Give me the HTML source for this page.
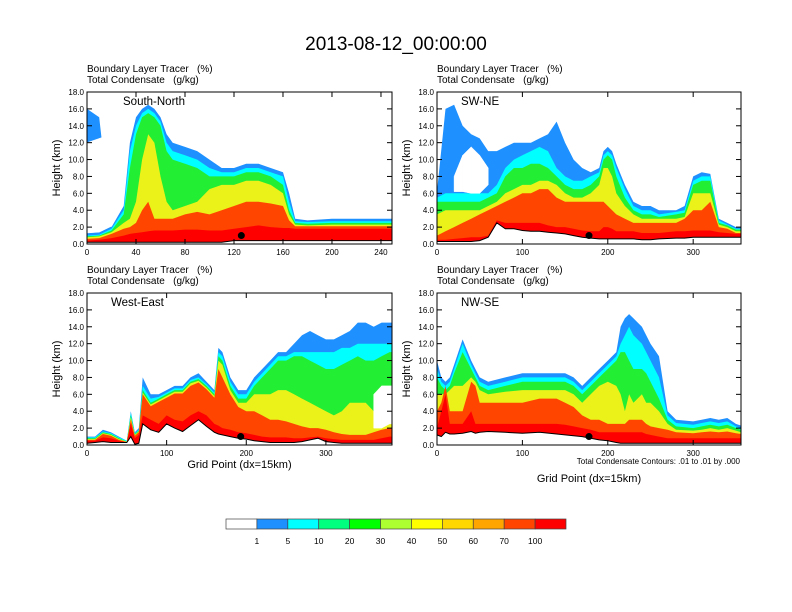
<!DOCTYPE html>
<html><head><meta charset="utf-8"><style>
html,body{margin:0;padding:0;background:#fff}
svg{display:block;font-family:"Liberation Sans",Arial,sans-serif}
text{white-space:pre}
</style></head><body>
<svg id="fig" width="792" height="612" viewBox="0 0 792 612" xmlns="http://www.w3.org/2000/svg">
<rect width="792" height="612" fill="#fff"/>
<text x="396" y="50" font-size="19" text-anchor="middle">2013-08-12_00:00:00</text>
<g id="panels"></g>
<g id="colorbar"></g>
<text x="740" y="464" font-size="8" text-anchor="end">Total Condensate Contours: .01 to .01 by .000</text>
</svg>
<script>
const NS="http://www.w3.org/2000/svg";
// ---------- data (heights in km, x in grid points) ----------
const tlX=[0,10,20,30,35,40,45,50,55,60,65,70,80,90,100,110,120,130,140,150,160,165,170,180,200,220,240,250];
const tlTerrain=[0.2,0.2,0.2,0.2,0.2,0.2,0.2,0.2,0.2,0.2,0.2,0.2,0.2,0.2,0.2,0.2,0.4,0.4,0.4,0.4,0.4,0.4,0.4,0.4,0.4,0.4,0.4,0.4];
const tlBlue=[16,15,2,4.5,12,15,16,16.5,16,15,13,12,11.5,11,10,9,9,9.5,9.5,9,8.5,6,3,2.8,3,3,3,3];
const tlCyan=[1,1.1,1.8,4,11,14,15.5,16,15.5,14.5,12,11,10.5,10,9,8.5,8.5,9,9,8.5,8,5,2.7,2.6,2.7,2.7,2.7,2.7];
const tlGreen=[0.9,1,1.6,3.5,9,13,15,15.5,15,14,11,10,9.5,9,8,8,8,8.5,8.5,8,7,4,2.5,2.4,2.5,2.5,2.5,2.5];
const tlYellow=[0.8,0.9,1.4,2.5,3,5,10,13,12,8,5,4,4.5,5,6.5,7,7,7.5,7.5,7,6,3.5,2.3,2.2,2.3,2.3,2.3,2.3];
const tlOrange=[0.6,0.7,1.2,1.8,2,2.5,4,5,3,3,3,3,3.5,3.8,3.5,4,4.5,5,5,4.8,4.5,2.8,2.1,2.1,2.1,2.1,2.1,2.1];
const tlRed=[0.4,0.5,0.7,1,1.2,1.3,1.4,1.5,1.6,1.6,1.6,1.6,1.7,1.7,1.6,1.6,1.8,2,2.2,2,1.9,1.9,1.8,1.8,1.8,1.8,1.8,1.8];
const tlClearLo=[1.3,1.4,2.1,0,0,0,0,0,0,0,0,0,0,0,0,0,0,0,0,0,0,0,0,0,0,0,0,0];
const tlClearHi=[12,12.5,13,0,0,0,0,0,0,0,0,0,0,0,0,0,0,0,0,0,0,0,0,0,0,0,0,0];

const trX=[0,10,20,30,40,50,60,70,80,90,100,110,120,130,140,150,160,170,180,190,195,200,205,210,220,230,240,250,260,280,290,300,310,320,330,340,350,356];
const trTerrain=[0.3,0.3,0.3,0.3,0.3,0.4,0.8,2.5,1.8,1.8,1.6,1.5,1.5,1.4,1.3,1.2,1,0.8,0.7,0.6,0.6,0.6,0.6,0.6,0.6,0.6,0.5,0.5,0.6,0.7,0.7,0.8,0.8,0.8,0.8,0.8,0.8,0.8];
const trBlue=[6.2,16,16.5,14,13,12.5,11,11,11.5,12,12,12,12.5,13,14.5,12,10,9,8.5,9,11,11.5,11,9.5,7,5,4.5,4.5,4,4,4.5,8,8.5,8.3,3,2.5,2,2];
const trCyan=[5.5,6,6,6,6,6,6,7,9,10,10.5,11,11.5,11,9,8,7.5,7.5,8,8.5,10.5,11,10.5,9,6.5,4.5,4,4,3.5,3.8,4,7.5,8,8,2.8,2.3,1.8,1.8];
const trGreen=[5,5,5,5,5,5,5.5,6,8,9,9,9.5,9.5,9,8,7,6.5,6.5,7,8,10,10.5,10,8,5.5,4,3.5,3.5,3.2,3.5,3.7,7,7.5,7.5,2.5,2.2,1.7,1.7];
const trYellow=[3.5,4,4,4,4,4,4.5,5,6,6.5,7,7,7.5,7.5,7,6,5.5,5.5,6,7,9,9,8,6,4.5,3.5,3,3,3,3,3.2,6,6,6,2.3,2,1.5,1.5];
const trOrange=[1,1.5,2,2.5,3,3.5,4,4.5,5,5.5,6,6,6.5,6.5,5.5,5,5,5,5,5,5,4.5,4,3.5,3,2.5,2.5,2.5,2.5,2.5,3,4,4,5,2,1.8,1.3,1.3];
const trRed=[0.5,0.5,0.6,0.7,0.8,0.8,1,2.8,2.5,2.5,2.5,2.5,2.5,2.2,2,2,1.8,1.6,1.5,1.5,2,2,1.8,1.5,1.5,1.5,1.3,1.3,1.3,1.5,1.5,1.6,1.6,1.6,1.4,1.3,1.2,1.2];
const trClearLo=[0,0,6.2,6.2,6,6,7,0,0,0,0,0,0,0,0,0,0,0,0,0,0,0,0,0,0,0,0,0,0,0,0,0,0,0,0,0,0,0];
const trClearHi=[0,0,8,10.5,11.5,10.5,9,0,0,0,0,0,0,0,0,0,0,0,0,0,0,0,0,0,0,0,0,0,0,0,0,0,0,0,0,0,0,0];

const blX=[0,10,20,30,40,50,55,60,65,70,80,90,100,110,120,130,140,150,160,165,170,180,190,200,210,220,230,240,250,260,270,280,290,300,310,320,330,340,350,360,370,380,383];
const blTerrain=[0.2,0.3,0.4,0.3,0.3,0.3,1,0.1,0.2,2.5,1.8,1.5,2.5,2,1.6,2.3,3,2.2,1.5,1.3,1.2,1,0.8,0.7,0.5,0.4,0.3,0.3,0.3,0.3,0.4,0.6,0.8,0.4,0.3,0.2,0.2,0.2,0.2,0.2,0.2,0.2,0.2];
const blBlue=[1,1,1.8,1.5,1,0.5,4,1.5,2,8,6,6,6.5,7,7,8,8.5,7.5,6.5,11.5,11,8,6.5,6.5,8,9,10,11,11,12,13,13.5,13,12.5,12.5,13,13.5,14.5,14.5,14,14.5,14.5,14.5];
const blCyan=[0.9,0.9,1.6,1.4,0.9,0.5,3.8,1.4,1.8,7,5.5,5.7,6.2,6.7,6.7,7.7,8,7.2,6.2,11,10.5,7.5,6,6,7.5,8.5,9.5,10.5,10.5,11,11,11,11,11,11,11.5,11.5,12,12,12,12,12,12];
const blGreen=[0.8,0.8,1.5,1.3,0.8,0.4,3.5,1.3,1.7,6.5,5,5.5,6,6.5,6.5,7.5,7.8,7,6,10.5,10,7,5.5,5.5,7,8,9,10,10,10.5,10.5,10,9.5,9,9,9.5,10,10.5,10,10,10.5,11,11];
const blYellow=[0.7,0.7,1.4,1.2,0.7,0.4,3.3,1.2,1.6,6.2,4.8,5.3,5.8,6.3,6.3,7.3,7.6,6.8,5.8,10,9.5,6.5,5,5,6,6,6,6.5,6.5,6,5.5,5,4.5,4,3.5,4,5,5,5,4,3.5,3,3];
const blOrange=[0.6,0.6,1.3,1.1,0.6,0.35,3,1.1,1.5,6,4.6,5.1,5.6,6.1,6.1,7,7.4,6.6,5.6,9,8,6,4.5,4,4,3.5,3,3,2.8,2.5,2.2,2,2,1.8,1.5,1.3,1.2,1.2,1.2,1.5,1.8,2,2];
const blRed=[0.5,0.5,0.9,0.8,0.5,0.3,2.5,0.8,1.2,3.5,3,2.5,3.5,3,2.8,3.5,4,3.5,2.5,2.3,2,1.8,1.5,1.4,1.2,1,0.9,0.9,0.9,0.8,0.8,0.9,1,0.8,0.7,0.6,0.6,0.6,0.6,0.6,0.8,1,1];
const blClearLo=[0,0,0,0,0,0,0,0,0,0,0,0,0,0,0,0,0,0,0,0,0,0,0,0,0,0,0,0,0,0,0,0,0,0,0,0,0,0,0,2,2,2.5,2.5];
const blClearHi=[0,0,0,0,0,0,0,0,0,0,0,0,0,0,0,0,0,0,0,0,0,0,0,0,0,0,0,0,0,0,0,0,0,0,0,0,0,0,0,6,7,7,7];

const brX=[0,5,10,15,20,30,40,45,50,60,80,100,120,140,150,160,170,180,190,200,210,215,220,225,230,240,245,250,260,270,280,300,310,320,330,340,350,356];
const brTerrain=[1.2,1,1.5,1.3,1.3,1.4,1.6,1.4,1.5,1.6,1.5,1.4,1.5,1.3,1.2,1.1,1,0.8,0.6,0.5,0.3,0.2,0.2,0.2,0.2,0.2,0.2,0.2,0.2,0.2,0.2,0.2,0.2,0.2,0.2,0.2,0.2,0.2];
const brBlue=[10,8,7.5,8,9.5,12.5,10,9,8,7.5,8,8.5,8.5,8.5,8.5,8,7,8,9,10,11,14,15,15.5,15,14,13,12,10.5,4,3,2.8,3,3.2,3,3.2,2.5,2.3];
const brCyan=[9,7.5,7,7.5,9,12,9.5,8.5,7.5,7,7.5,8,8,8,8,7.5,6.5,7.5,8.5,9.5,10.5,12,13,14,13,12,11,10,8,3.5,2.6,2.4,2.6,2.8,2.6,2.8,2.2,2];
const brGreen=[8,7,6.5,7,8.5,11,9,8,7,6.5,7,7.5,7.5,7.5,7.5,7,6,7,8,9,10,11,11,10,9,9,8.5,7.5,5.5,3,2.2,2,2.2,2.4,2.2,2.4,2,1.8];
const brYellow=[6,6,6,6.5,7,7,8,7.5,6.5,6,6.3,6.5,6.5,6.5,6.5,6,5,6,7,7.5,7,6,4,6,5,6,5,5,4,2.5,1.8,1.7,1.8,2,1.8,2,1.7,1.5];
const brOrange=[4,5,7,4,4,4,7.5,7,5,5,5,5,5.5,5.5,5,4.5,3.5,3,3,2.5,2.5,2.5,2.5,3,3,3,2.5,2.2,2,1.8,1.5,1.4,1.5,1.6,1.5,1.6,1.4,1.3];
const brRed=[2,4,6,2.5,2.5,2.5,4,2.5,2.5,2.5,2.5,2.5,2.5,2.5,2.4,2.2,2,1.8,1.5,1.5,1.5,1.5,1.5,1.5,1.5,1.5,1.3,1.2,1,0.8,0.8,0.8,0.8,0.8,0.8,0.8,0.8,0.8];
const brClearLo=new Array(38).fill(0);
const brClearHi=new Array(38).fill(0);

const yTicks=[0,2,4,6,8,10,12,14,16,18];
const tlXTicks=[0,40,80,120,160,200,240];
const otherXTicks=[0,100,200,300];
const barLabels=["1","5","10","20","30","40","50","60","70","100"];
const barColors=["#ffffff","#1e90ff","#00ffff","#00ff7f","#00ff00","#adff2f","#ffff00","#ffd700","#ffa500","#ff4500","#ff0000"];
const bandColors=["#1e90ff","#00ffff","#22ee33","#eaf21a","#ff4500","#ff0000"];

const panels=[
 {id:"south-north",x0:87,x1:392,y0:92,y1:244,xmax:249,label:"South-North",ticks:tlXTicks,X:tlX,T:tlTerrain,B:[tlBlue,tlCyan,tlGreen,tlYellow,tlOrange,tlRed],cl:tlClearLo,ch:tlClearHi,dot:126,xt:false},
 {id:"sw-ne",x0:437,x1:741,y0:92,y1:244,xmax:356,label:"SW-NE",ticks:otherXTicks,X:trX,T:trTerrain,B:[trBlue,trCyan,trGreen,trYellow,trOrange,trRed],cl:trClearLo,ch:trClearHi,dot:178,xt:false},
 {id:"west-east",x0:87,x1:392,y0:293,y1:445,xmax:383,label:"West-East",ticks:otherXTicks,X:blX,T:blTerrain,B:[blBlue,blCyan,blGreen,blYellow,blOrange,blRed],cl:blClearLo,ch:blClearHi,dot:193,xt:468},
 {id:"nw-se",x0:437,x1:741,y0:293,y1:445,xmax:356,label:"NW-SE",ticks:otherXTicks,X:brX,T:brTerrain,B:[brBlue,brCyan,brGreen,brYellow,brOrange,brRed],cl:brClearLo,ch:brClearHi,dot:178,xt:482}
];
function mk(tag,attrs,parent){const e=document.createElementNS(NS,tag);for(const k in attrs)e.setAttribute(k,attrs[k]);parent.appendChild(e);return e;}
const root=document.getElementById('panels');
panels.forEach(p=>{
 const g=mk('g',{},root);
 
 
 const sx=v=>p.x0+(p.x1-p.x0)*v/p.xmax;
 const sy=v=>p.y1-(p.y1-p.y0)*v/18;
 const clip=mk('clipPath',{id:'c-'+p.id},g);mk('rect',{x:p.x0,y:p.y0,width:p.x1-p.x0,height:p.y1-p.y0},clip);
 const plot=mk('g',{'clip-path':'url(#c-'+p.id+')'},g);
 p.B.forEach((arr,i)=>{
  let d='';
  p.X.forEach((x,j)=>{d+=(j?'L':'M')+sx(x).toFixed(1)+','+sy(Math.max(arr[j],p.T[j])).toFixed(1);});
  for(let j=p.X.length-1;j>=0;j--)d+='L'+sx(p.X[j]).toFixed(1)+','+sy(p.T[j]).toFixed(1);
  const path=mk('path',{d:d+'Z',fill:bandColors[i]},plot);
  
  
 });
 // clear-air gaps: only between consecutive points that both have a gap
 for(let j=0;j<p.X.length-1;j++){
  if(p.ch[j]>p.cl[j] && p.ch[j+1]>p.cl[j+1]){
   const d='M'+sx(p.X[j])+','+sy(p.ch[j])+'L'+sx(p.X[j+1])+','+sy(p.ch[j+1])+'L'+sx(p.X[j+1])+','+sy(p.cl[j+1])+'L'+sx(p.X[j])+','+sy(p.cl[j])+'Z';
   mk('path',{d:d,fill:'#fff',stroke:'#fff','stroke-width':0.5},plot);
  }
 }
 let dt='';p.X.forEach((x,j)=>{dt+=(j?'L':'M')+sx(x).toFixed(1)+','+sy(p.T[j]).toFixed(1);});
 const tl=mk('path',{d:dt,fill:'none',stroke:'#000','stroke-width':1},plot);
 
 
 const dot=mk('circle',{cx:sx(p.dot),cy:sy(1.0),r:3.5,fill:'#000'},g);
 
 
 mk('rect',{x:p.x0,y:p.y0,width:p.x1-p.x0,height:p.y1-p.y0,fill:'none',stroke:'#000','stroke-width':1},g);
 yTicks.forEach(v=>{
  const y=sy(v);
  mk('line',{x1:p.x0,x2:p.x0+5,y1:y,y2:y,stroke:'#000'},g);
  mk('line',{x1:p.x1,x2:p.x1-5,y1:y,y2:y,stroke:'#000'},g);
  const t=mk('text',{x:p.x0-3,y:y+3,'font-size':8,'text-anchor':'end'},g);t.textContent=v.toFixed(1);
  
  
 });
 p.ticks.forEach(v=>{
  const x=sx(v);
  mk('line',{x1:x,x2:x,y1:p.y1,y2:p.y1-5,stroke:'#000'},g);
  mk('line',{x1:x,x2:x,y1:p.y0,y2:p.y0+5,stroke:'#000'},g);
  const t=mk('text',{x:x,y:p.y1+11,'font-size':8,'text-anchor':'middle'},g);t.textContent=v;
  
  
 });
 const yt=mk('text',{x:0,y:0,'font-size':11,'text-anchor':'middle',transform:`translate(${p.x0-27},${(p.y0+p.y1)/2}) rotate(-90)`},g);yt.textContent='Height (km)';
 
 
 const h1=mk('text',{x:p.x0,y:p.y0-20,'font-size':10},g);h1.textContent='Boundary Layer Tracer   (%)';
 
 
 const h2=mk('text',{x:p.x0,y:p.y0-9,'font-size':10},g);h2.textContent='Total Condensate   (g/kg)';
 
 
 const lb=mk('text',{x:p.x0+(p.id=='south-north'?36:24),y:p.y0+13,'font-size':11.5},g);lb.textContent=p.label;
 
 
 if(p.xt){
  const xt=mk('text',{x:(p.x0+p.x1)/2,y:p.xt,'font-size':11,'text-anchor':'middle'},g);xt.textContent='Grid Point (dx=15km)';
  
  
 }
});
const cb=document.getElementById('colorbar');
const bw=(566-226)/barColors.length;
barColors.forEach((c,i)=>{
 const r=mk('rect',{x:226+i*bw,y:519,width:bw,height:10,fill:c,stroke:'#444','stroke-width':0.7},cb);
 
 
});
barLabels.forEach((l,i)=>{
 const t=mk('text',{x:226+(i+1)*bw,y:544,'font-size':8.5,'text-anchor':'middle'},cb);t.textContent=l;
 
 
});
</script>
</body></html>
